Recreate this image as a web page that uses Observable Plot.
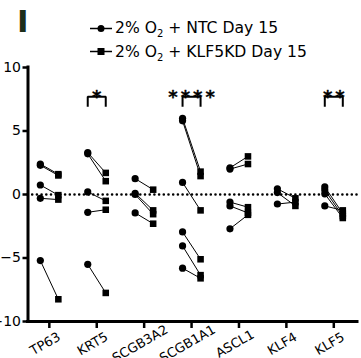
<!DOCTYPE html>
<html>
<head>
<meta charset="utf-8">
<script src="https://cdn.jsdelivr.net/npm/d3@7"></script>
<script src="https://cdn.jsdelivr.net/npm/@observablehq/plot@0.6"></script>
<style>
  html, body { margin: 0; padding: 0; background: #fff; }
  #wrap { position: relative; width: 361px; height: 358px; overflow: hidden; }
  #legend { position: absolute; left: 0; top: 0; }
  #chart { position: absolute; left: 0; top: 0; }
</style>
</head>
<body>
<div id="wrap">
  <div id="chart"></div>
  <svg id="legend" width="361" height="64" font-family="DejaVu Sans"></svg>
</div>
<script>
// ---- data ----
const genes = ["TP63", "KRT5", "SCGB3A2", "SCGB1A1", "ASCL1", "KLF4", "KLF5"];
const ntcDay15 = [
  [2.4, 2.3, 0.75, -0.3, -5.2],
  [3.3, 3.2, 0.2, -1.4, -5.5],
  [1.25, 0.1, 0.0, -1.45],
  [6.0, 5.8, 0.95, -2.95, -4.05, -5.8],
  [2.1, 2.0, -0.6, -0.9, -2.7],
  [0.45, 0.15, -0.75],
  [0.6, 0.35, 0.05, -0.9]
];
const klf5kdDay15 = [
  [1.6, 1.5, -0.05, -0.4, -8.25],
  [1.7, 1.05, -0.5, -1.2, -7.75],
  [0.38, -1.25, -1.55, -2.3],
  [1.8, 1.45, -1.25, -5.1, -6.35, -6.6],
  [3.0, 2.4, -1.0, -1.45, -1.6],
  [-0.3, -0.9, -0.6],
  [-1.5, -1.7, -1.85, -1.25]
];
const yTicks = [-10, -5, 0, 5, 10];
const sigGenes = ["KRT5", "SCGB1A1", "KLF5"];
const sigLabels = ["*", "****", "**"];
const seriesNames = ["NTC Day 15", "KLF5KD Day 15"];
const panelLabel = "I";

// ---- build tables ----
const off = 0.19;
const pairs = genes.flatMap((g, i) => ntcDay15[i].map((v, j) => ({gene: g, i, a: v, b: klf5kdDay15[i][j]})));
const bracketTop = 7.7, bracketLeg = 6.9;
const brackets = sigGenes.flatMap((g, k) => {
  const i = genes.indexOf(g);
  return [[i - off, bracketLeg], [i - off, bracketTop], [i + off, bracketTop], [i + off, bracketLeg]]
    .map(([x, y]) => ({k, x, y}));
});
const sigs = sigGenes.map((g, k) => ({i: genes.indexOf(g), label: sigLabels[k]}));
const xDomain = [-0.45, genes.length - 0.5];
const starSpacing = 3;

const chart = Plot.plot({
  width: 361,
  height: 358,
  marginLeft: 27.5,
  marginRight: 4,
  marginTop: 67,
  marginBottom: 37,
  style: {fontFamily: "DejaVu Sans", color: "#000", background: "transparent"},
  x: {domain: xDomain},
  y: {domain: [-10, 10]},
  marks: [
    Plot.ruleY([0], {stroke: "#000", strokeWidth: 2.6, strokeDasharray: "0 4.7", strokeLinecap: "round"}),
    Plot.link(pairs, {x1: d => d.i - off, x2: d => d.i + off, y1: "a", y2: "b", stroke: "#000", strokeWidth: 1}),
    Plot.dot(pairs, {x: d => d.i - off, y: "a", r: 3.6, fill: "#000", symbol: "circle"}),
    Plot.dot(pairs, {x: d => d.i + off, y: "b", r: 3.7, fill: "#000", symbol: "square"}),
    Plot.line(brackets, {x: "x", y: "y", z: "k", stroke: "#000", strokeWidth: 2, strokeLinejoin: "miter", strokeLinecap: "butt"}),
    Plot.text(sigs, {x: "i", y: () => bracketTop, text: "label", lineAnchor: "bottom", dy: 6, dx: starSpacing / 2, fontSize: 18, fontWeight: "bold", fill: "#000", stroke: "#000", strokeWidth: 0.3}),
    Plot.ruleX([xDomain[0]], {stroke: "#000", strokeWidth: 3, strokeLinecap: "square"}),
    Plot.ruleY([-10], {stroke: "#000", strokeWidth: 3, strokeLinecap: "square"}),
    Plot.axisY(yTicks, {tickSize: 5, strokeWidth: 2.5, fontSize: 14, tickPadding: 2, label: null, fill: "#000"}),
    Plot.axisX(d3.range(genes.length), {tickSize: 7, strokeWidth: 2.5, tickFormat: () => "", label: null}),
    Plot.text(genes, {x: (d, i) => i, text: d => d, frameAnchor: "bottom", dy: 26, dx: -2, rotate: -30, textAnchor: "middle", fontSize: 13, fill: "#000"})
  ]
});
d3.select(chart).selectAll("text").filter(function() { return /^\*+$/.test(this.textContent); })
  .style("letter-spacing", starSpacing + "px");
document.getElementById("chart").appendChild(chart);

// ---- legend ----
const lg = d3.select("#legend");
lg.append("text").attr("x", 17).attr("y", 32).attr("font-size", 31).attr("font-weight", "bold")
  .attr("fill", "#1c2e1a").text(panelLabel);
const rowsY = [28.5, 51.5];
const baseY = [33, 56.5];
seriesNames.forEach((name, k) => {
  const y = rowsY[k];
  lg.append("line").attr("x1", 90).attr("x2", 112).attr("y1", y).attr("y2", y).attr("stroke", "#000").attr("stroke-width", 1.5);
  if (k === 0) lg.append("circle").attr("cx", 101).attr("cy", y).attr("r", 3.5).attr("fill", "#000");
  else lg.append("rect").attr("x", 97.5).attr("y", y - 3.5).attr("width", 7).attr("height", 7).attr("fill", "#000");
  const t = lg.append("text").attr("x", 115).attr("y", baseY[k]).attr("font-size", 15.6).attr("fill", "#000");
  t.append("tspan").text("2% O");
  t.append("tspan").attr("font-size", 10).attr("dy", 4).text("2");
  t.append("tspan").attr("dy", -4).text(" + " + name);
});
</script>
</body>
</html>
